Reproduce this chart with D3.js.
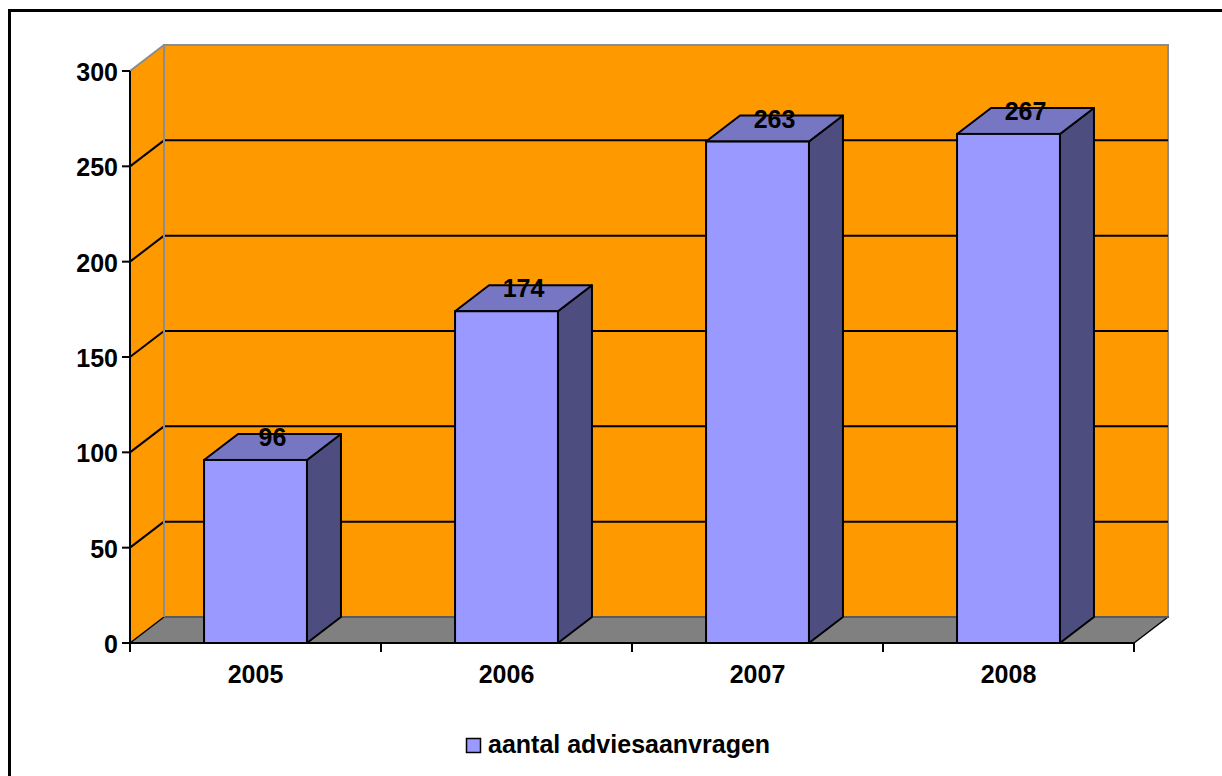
<!DOCTYPE html>
<html>
<head>
    <meta charset="UTF-8" />
    <title>Aantal adviesaanvragen</title>
    <script src="https://d3js.org/d3.v7.min.js"></script>
    <style>
	body { margin: 0; background: white; }
	text { font-family: "Liberation Sans", Arial, sans-serif; font-weight: bold; }
 	</style>
</head>

<body>
	<div id="chart"></div>

<script type="text/javascript">

	var years = ["2005", "2006", "2007", "2008"]
	var aanvragen = [96, 174, 263, 267]
	var yTicks = [0, 50, 100, 150, 200, 250, 300]
	var seriesName = "aantal adviesaanvragen"

	// plot area (front plane) and 3d depth offset
	var plotLeft = 130, plotRight = 1134, plotTop = 71, plotBottom = 643
	var dx = 34, dy = 26

	var svg = d3.select("div#chart")
		.append("svg")
			.attr("width", 1222)
			.attr("height", 776)

	// outer border (cut off on the right and bottom)
	svg.append("rect")
		.attr("x", 9.5).attr("y", 10.5)
		.attr("width", 1240).attr("height", 800)
		.attr("fill", "white")
		.attr("stroke", "black")
		.attr("stroke-width", 3)

	var x = d3.scaleBand()
		.domain(years)
		.range([plotLeft, plotRight])
		.paddingInner(0.59)
		.paddingOuter(0.295)

	var y = d3.scaleLinear()
		.domain([0, 300])
		.range([plotBottom, plotTop])

	var pts = function(a) { return a.map(function(p) { return p.join(",") }).join(" ") }

	// side wall
	svg.append("polygon")
		.attr("points", pts([[plotLeft, y(0)], [plotLeft, y(300)], [plotLeft + dx, y(300) - dy], [plotLeft + dx, y(0) - dy]]))
		.attr("fill", "#FF9900")
	// back wall
	svg.append("rect")
		.attr("x", plotLeft + dx).attr("y", y(300) - dy)
		.attr("width", plotRight - plotLeft).attr("height", y(0) - y(300))
		.attr("fill", "#FF9900")
		.attr("stroke", "#8c8c8c")
		.attr("stroke-width", 2)
	svg.append("line")
		.attr("x1", plotLeft).attr("y1", y(300))
		.attr("x2", plotLeft + dx).attr("y2", y(300) - dy)
		.attr("stroke", "#8c8c8c").attr("stroke-width", 2)
	// floor
	svg.append("polygon")
		.attr("points", pts([[plotLeft, y(0)], [plotRight, y(0)], [plotRight + dx, y(0) - dy], [plotLeft + dx, y(0) - dy]]))
		.attr("fill", "#808080")
		.attr("stroke", "black")
		.attr("stroke-width", 1.5)
		.attr("stroke-linejoin", "round")
	svg.append("line")
		.attr("x1", plotLeft + dx).attr("y1", y(0) - dy)
		.attr("x2", plotRight + dx).attr("y2", y(0) - dy)
		.attr("stroke", "#6e6e6e").attr("stroke-width", 1.5)

	// gridlines
	var grid = yTicks.filter(function(d) { return d > 0 && d < 300 })
	svg.selectAll(".gridback")
		.data(grid)
		.enter()
		.append("line")
			.attr("x1", plotLeft + dx).attr("x2", plotRight + dx)
			.attr("y1", function(d) { return y(d) - dy })
			.attr("y2", function(d) { return y(d) - dy })
			.attr("stroke", "black").attr("stroke-width", 2)
	svg.selectAll(".gridside")
		.data(grid)
		.enter()
		.append("line")
			.attr("x1", plotLeft).attr("x2", plotLeft + dx)
			.attr("y1", function(d) { return y(d) })
			.attr("y2", function(d) { return y(d) - dy })
			.attr("stroke", "black").attr("stroke-width", 2)
	svg.append("line")
		.attr("x1", plotLeft + dx).attr("y1", y(300) - dy)
		.attr("x2", plotLeft + dx).attr("y2", y(0) - dy)
		.attr("stroke", "#8c8c8c").attr("stroke-width", 2)

	// Y axis
	svg.append("line")
		.attr("x1", plotLeft).attr("x2", plotLeft)
		.attr("y1", y(0)).attr("y2", y(300))
		.attr("stroke", "black").attr("stroke-width", 2)
	svg.selectAll(".ytick")
		.data(yTicks)
		.enter()
		.append("line")
			.attr("x1", plotLeft - 8).attr("x2", plotLeft)
			.attr("y1", function(d) { return y(d) })
			.attr("y2", function(d) { return y(d) })
			.attr("stroke", "black").attr("stroke-width", 2)
	svg.selectAll(".ylabel")
		.data(yTicks)
		.enter()
		.append("text")
			.attr("x", plotLeft - 12)
			.attr("y", function(d) { return y(d) + 10 })
			.attr("text-anchor", "end")
			.style("font-size", "25px")
			.text(function(d) { return d })

	// X axis
	svg.append("line")
		.attr("x1", plotLeft).attr("x2", plotRight)
		.attr("y1", y(0)).attr("y2", y(0))
		.attr("stroke", "black").attr("stroke-width", 2)
	var xTicks = d3.range(years.length + 1).map(function(i) { return plotLeft + i * x.step() })
	svg.selectAll(".xtick")
		.data(xTicks)
		.enter()
		.append("line")
			.attr("x1", function(d) { return d }).attr("x2", function(d) { return d })
			.attr("y1", y(0)).attr("y2", y(0) + 9)
			.attr("stroke", "black").attr("stroke-width", 2)
	svg.selectAll(".xlabel")
		.data(years)
		.enter()
		.append("text")
			.attr("x", function(d) { return x(d) + x.bandwidth() / 2 })
			.attr("y", 683)
			.attr("text-anchor", "middle")
			.style("font-size", "25px")
			.text(function(d) { return d })

	// bars
	var bars = svg.selectAll(".bar")
		.data(years.map(function(d, i) { return [d, aanvragen[i]] }))
		.enter()
		.append("g")

	bars.append("polygon")
		.attr("points", function(d) {
			var x0 = x(d[0]), x1 = x0 + x.bandwidth(), yt = y(d[1])
			return pts([[x1, y(0)], [x1 + dx, y(0) - dy], [x1 + dx, yt - dy], [x1, yt]])
		})
		.attr("fill", "#4D4D80")
		.attr("stroke", "black").attr("stroke-width", 2).attr("stroke-linejoin", "round")
	bars.append("polygon")
		.attr("points", function(d) {
			var x0 = x(d[0]), x1 = x0 + x.bandwidth(), yt = y(d[1])
			return pts([[x0, yt], [x1, yt], [x1 + dx, yt - dy], [x0 + dx, yt - dy]])
		})
		.attr("fill", "#7676C2")
		.attr("stroke", "black").attr("stroke-width", 2).attr("stroke-linejoin", "round")
	bars.append("rect")
		.attr("x", function(d) { return x(d[0]) })
		.attr("y", function(d) { return y(d[1]) })
		.attr("width", x.bandwidth())
		.attr("height", function(d) { return y(0) - y(d[1]) })
		.attr("fill", "#9999FF")
		.attr("stroke", "black").attr("stroke-width", 2)
	bars.append("text")
		.attr("x", function(d) { return x(d[0]) + x.bandwidth() / 2 + dx / 2 })
		.attr("y", function(d) { return y(d[1]) - 14 })
		.attr("text-anchor", "middle")
		.style("font-size", "25px")
		.text(function(d) { return d[1] })

	// legend
	var legend = svg.append("g")
	legend.append("rect")
		.attr("x", 466.5).attr("y", 738.5)
		.attr("width", 14).attr("height", 14)
		.attr("fill", "#9999FF")
		.attr("stroke", "black").attr("stroke-width", 1.5)
	legend.append("text")
		.attr("x", 488).attr("y", 753)
		.style("font-size", "25px")
		.text(seriesName)

</script>
</body>
</html>
